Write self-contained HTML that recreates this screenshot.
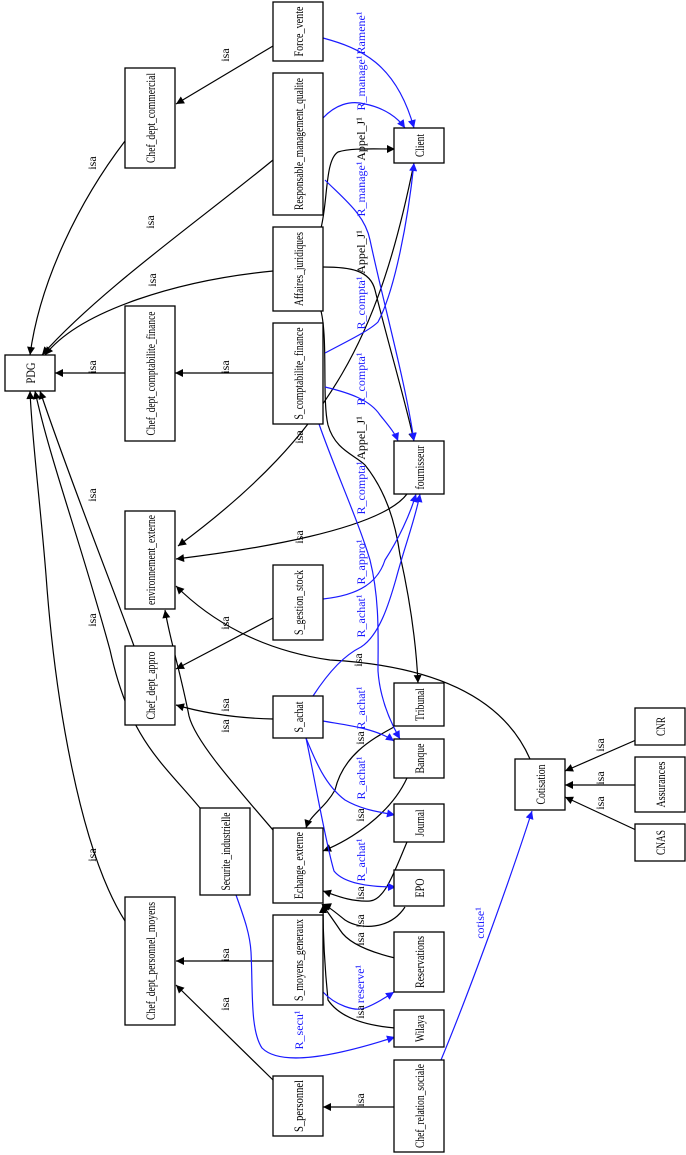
<!DOCTYPE html>
<html><head><meta charset="utf-8"><style>
html,body{margin:0;padding:0;background:#fff}
svg{display:block}
text{font-family:"Liberation Serif",serif;font-size:12px}
.n rect{fill:#fff;stroke:#000;stroke-width:1.3}
.n text{font-size:13px;text-anchor:middle}
.e{fill:none;stroke:#000;stroke-width:1.2}
.b{fill:none;stroke:#1a1aff;stroke-width:1.2}
.l{text-anchor:middle;fill:#000}
.lb{text-anchor:middle;fill:#1a1aff}
</style></head><body>
<svg width="686" height="1155" viewBox="0 0 686 1155" xmlns="http://www.w3.org/2000/svg">
<defs>
<marker id="ak" viewBox="0 0 10 10" refX="10" refY="5" markerWidth="10" markerHeight="8" orient="auto" markerUnits="userSpaceOnUse"><path d="M0,0L10,5L0,10z" fill="#000"/></marker>
<marker id="ab" viewBox="0 0 10 10" refX="10" refY="5" markerWidth="10" markerHeight="8" orient="auto" markerUnits="userSpaceOnUse"><path d="M0,0L10,5L0,10z" fill="#1a1aff"/></marker>
</defs>

<g class="e" marker-end="url(#ak)">
<path d="M273,46 L176,104"/>
<path d="M125,141 C80,200 40,280 30,355"/>
<path d="M273,160 C200,220 100,290 42,355"/>
<path d="M273,271 C180,280 80,310 45,355"/>
<path d="M125,373 L55,373"/>
<path d="M273,373 L175,373"/>
<path d="M407,494 C380,530 250,550 176,559"/>
<path d="M414,163 C380,330 335,430 178,546"/>
<path d="M530,759 C500,690 420,665 330,660 C260,650 210,620 176,586"/>
<path d="M273,618 L176,669"/>
<path d="M273,719 C230,718 200,712 176,705"/>
<path d="M134,646 C110,580 70,480 40,391"/>
<path d="M200,808 C160,760 130,740 110,650 C80,540 50,460 35,391"/>
<path d="M125,921 C80,850 55,700 46,575 C40,500 32,440 30,391"/>
<path d="M273,830 C230,780 195,740 189,716 C180,670 170,640 165,610"/>
<path d="M394,727 C370,740 343,756 335,790 C325,808 310,815 306,828"/>
<path d="M407,778 C390,815 350,840 323,851"/>
<path d="M407,842 C395,870 385,900 370,901 C350,902 335,895 323,891"/>
<path d="M405,907 C390,930 360,930 345,920 C335,912 328,906 323,904"/>
<path d="M395,958 C370,952 348,943 340,930 C332,918 326,910 322,904"/>
<path d="M395,1028 C360,1025 338,1015 328,1000 C324,960 323,930 323,905"/>
<path d="M273,961 L176,961"/>
<path d="M273,1080 L176,985"/>
<path d="M394,1107 L323,1107"/>
<path d="M636,740 L565,771"/>
<path d="M636,785 L565,785"/>
<path d="M636,830 L565,797"/>
<path d="M321,228 C328,200 325,160 338,152 C350,148 370,149 395,149"/>
<path d="M323,267 C350,267 370,270 375,290 C390,350 405,400 414,441"/>
<path d="M321,311 C328,340 322,400 328,425 C335,450 355,455 365,465 C385,490 395,520 400,555 C410,600 416,640 418,683"/>
</g>

<g class="b" marker-end="url(#ab)">
<path d="M323,38 C360,48 396,63 414,128"/>
<path d="M323,118 C335,105 350,100 365,104 C385,108 398,118 405,128"/>
<path d="M325,180 C345,200 365,215 370,240 C385,310 405,380 414,441"/>
<path d="M325,353 C350,340 370,330 378,322 C395,290 408,220 414,163"/>
<path d="M325,387 C350,393 370,400 380,415 C388,425 395,433 398,441"/>
<path d="M319,424 C335,470 358,520 370,560 C380,600 378,640 378,671 C380,700 392,725 400,739"/>
<path d="M323,599 C360,595 378,582 385,560 C398,540 410,515 416,494"/>
<path d="M313,696 C330,670 345,655 361,647 C380,635 390,600 396,579 C405,545 415,520 420,494"/>
<path d="M323,721 C345,725 375,728 394,741"/>
<path d="M306,738 C315,760 325,785 345,800 C362,810 380,812 395,815"/>
<path d="M306,738 C315,780 325,840 334,871 C345,885 375,887 396,887"/>
<path d="M323,992 C335,1005 355,1012 365,1008 C375,1004 385,998 394,992"/>
<path d="M236,895 C245,920 250,935 251,952 C253,990 250,1030 262,1048 C280,1066 330,1058 395,1037"/>
<path d="M441,1060 C470,990 510,880 532,811"/>
</g>

<g class="n">
<rect x="273" y="2" width="50" height="59"/><text transform="translate(303,31.5) rotate(-90)" textLength="50" lengthAdjust="spacingAndGlyphs">Force_vente</text>
<rect x="125" y="68" width="50" height="100"/><text transform="translate(155,118) rotate(-90)" textLength="90" lengthAdjust="spacingAndGlyphs">Chef_dept_commercial</text>
<rect x="273" y="73" width="50" height="142"/><text transform="translate(303,144) rotate(-90)" textLength="132" lengthAdjust="spacingAndGlyphs">Responsable_management_qualite</text>
<rect x="394" y="128" width="50" height="35"/><text transform="translate(424,145.5) rotate(-90)" textLength="23" lengthAdjust="spacingAndGlyphs">Client</text>
<rect x="273" y="227" width="50" height="84"/><text transform="translate(303,269) rotate(-90)" textLength="74" lengthAdjust="spacingAndGlyphs">Affaires_juridiques</text>
<rect x="5" y="355" width="50" height="36"/><text transform="translate(35,373) rotate(-90)" textLength="21" lengthAdjust="spacingAndGlyphs">PDG</text>
<rect x="125" y="306" width="50" height="135"/><text transform="translate(155,373.5) rotate(-90)" textLength="124" lengthAdjust="spacingAndGlyphs">Chef_dept_comptabilite_finance</text>
<rect x="273" y="323" width="50" height="101"/><text transform="translate(303,373.5) rotate(-90)" textLength="92" lengthAdjust="spacingAndGlyphs">S_comptabilite_finance</text>
<rect x="394" y="441" width="50" height="53"/><text transform="translate(424,467.5) rotate(-90)" textLength="44" lengthAdjust="spacingAndGlyphs">fournisseur</text>
<rect x="125" y="511" width="50" height="98"/><text transform="translate(155,560) rotate(-90)" textLength="90" lengthAdjust="spacingAndGlyphs">environnement_externe</text>
<rect x="273" y="565" width="50" height="75"/><text transform="translate(303,602.5) rotate(-90)" textLength="65" lengthAdjust="spacingAndGlyphs">S_gestion_stock</text>
<rect x="125" y="646" width="50" height="79"/><text transform="translate(155,685.5) rotate(-90)" textLength="68" lengthAdjust="spacingAndGlyphs">Chef_dept_appro</text>
<rect x="273" y="696" width="50" height="42"/><text transform="translate(303,717) rotate(-90)" textLength="31" lengthAdjust="spacingAndGlyphs">S_achat</text>
<rect x="394" y="683" width="50" height="43"/><text transform="translate(424,704.5) rotate(-90)" textLength="33" lengthAdjust="spacingAndGlyphs">Tribunal</text>
<rect x="394" y="739" width="50" height="39"/><text transform="translate(424,758.5) rotate(-90)" textLength="30" lengthAdjust="spacingAndGlyphs">Banque</text>
<rect x="515" y="759" width="50" height="51"/><text transform="translate(545,784.5) rotate(-90)" textLength="40" lengthAdjust="spacingAndGlyphs">Cotisation</text>
<rect x="635" y="708" width="50" height="37"/><text transform="translate(665,726.5) rotate(-90)" textLength="19" lengthAdjust="spacingAndGlyphs">CNR</text>
<rect x="635" y="757" width="50" height="55"/><text transform="translate(665,784.5) rotate(-90)" textLength="46" lengthAdjust="spacingAndGlyphs">Assurances</text>
<rect x="635" y="824" width="50" height="37"/><text transform="translate(665,842.5) rotate(-90)" textLength="25" lengthAdjust="spacingAndGlyphs">CNAS</text>
<rect x="200" y="808" width="50" height="87"/><text transform="translate(230,851.5) rotate(-90)" textLength="78" lengthAdjust="spacingAndGlyphs">Securite_industrielle</text>
<rect x="394" y="804" width="50" height="38"/><text transform="translate(424,823) rotate(-90)" textLength="27" lengthAdjust="spacingAndGlyphs">Journal</text>
<rect x="273" y="828" width="50" height="75"/><text transform="translate(303,865.5) rotate(-90)" textLength="67" lengthAdjust="spacingAndGlyphs">Echange_externe</text>
<rect x="394" y="870" width="50" height="36"/><text transform="translate(424,888) rotate(-90)" textLength="19" lengthAdjust="spacingAndGlyphs">EPO</text>
<rect x="125" y="897" width="50" height="128"/><text transform="translate(155,961) rotate(-90)" textLength="118" lengthAdjust="spacingAndGlyphs">Chef_dept_personnel_moyens</text>
<rect x="273" y="915" width="50" height="90"/><text transform="translate(303,960) rotate(-90)" textLength="82" lengthAdjust="spacingAndGlyphs">S_moyens_generaux</text>
<rect x="394" y="932" width="50" height="60"/><text transform="translate(424,962) rotate(-90)" textLength="52" lengthAdjust="spacingAndGlyphs">Reservations</text>
<rect x="394" y="1010" width="50" height="37"/><text transform="translate(424,1028.5) rotate(-90)" textLength="27" lengthAdjust="spacingAndGlyphs">Wilaya</text>
<rect x="273" y="1076" width="50" height="60"/><text transform="translate(303,1106) rotate(-90)" textLength="52" lengthAdjust="spacingAndGlyphs">S_personnel</text>
<rect x="394" y="1060" width="50" height="92"/><text transform="translate(424,1106) rotate(-90)" textLength="84" lengthAdjust="spacingAndGlyphs">Chef_relation_sociale</text>
</g>

<g class="l">
<text transform="translate(229,55) rotate(-90)">isa</text>
<text transform="translate(96,163) rotate(-90)">isa</text>
<text transform="translate(154,222) rotate(-90)">isa</text>
<text transform="translate(156,280) rotate(-90)">isa</text>
<text transform="translate(96,367) rotate(-90)">isa</text>
<text transform="translate(229,367) rotate(-90)">isa</text>
<text transform="translate(303,537) rotate(-90)">isa</text>
<text transform="translate(303,437) rotate(-90)">isa</text>
<text transform="translate(362,660) rotate(-90)">isa</text>
<text transform="translate(229,623) rotate(-90)">isa</text>
<text transform="translate(229,705) rotate(-90)">isa</text>
<text transform="translate(96,495) rotate(-90)">isa</text>
<text transform="translate(96,620) rotate(-90)">isa</text>
<text transform="translate(96,855) rotate(-90)">isa</text>
<text transform="translate(229,726) rotate(-90)">isa</text>
<text transform="translate(364,738) rotate(-90)">isa</text>
<text transform="translate(364,815) rotate(-90)">isa</text>
<text transform="translate(364,893) rotate(-90)">isa</text>
<text transform="translate(364,921) rotate(-90)">isa</text>
<text transform="translate(364,939) rotate(-90)">isa</text>
<text transform="translate(364,1012) rotate(-90)">isa</text>
<text transform="translate(229,955) rotate(-90)">isa</text>
<text transform="translate(229,1004) rotate(-90)">isa</text>
<text transform="translate(364,1100) rotate(-90)">isa</text>
<text transform="translate(604,745) rotate(-90)">isa</text>
<text transform="translate(604,778) rotate(-90)">isa</text>
<text transform="translate(604,803) rotate(-90)">isa</text>
<text transform="translate(365,139) rotate(-90)">Appel_J¹</text>
<text transform="translate(365,252) rotate(-90)">Appel_J¹</text>
<text transform="translate(365,438) rotate(-90)">Appel_J¹</text>
</g>

<g class="lb">
<text transform="translate(365,33) rotate(-90)">Ramene¹</text>
<text transform="translate(365,83) rotate(-90)">R_manage¹</text>
<text transform="translate(365,189) rotate(-90)">R_manage¹</text>
<text transform="translate(365,303) rotate(-90)">R_compta¹</text>
<text transform="translate(365,379) rotate(-90)">R_compta¹</text>
<text transform="translate(365,488) rotate(-90)">R_compta¹</text>
<text transform="translate(365,562) rotate(-90)">R_appro¹</text>
<text transform="translate(365,616) rotate(-90)">R_achat¹</text>
<text transform="translate(365,708) rotate(-90)">R_achat¹</text>
<text transform="translate(365,778) rotate(-90)">R_achat¹</text>
<text transform="translate(365,860) rotate(-90)">R_achat¹</text>
<text transform="translate(364,984) rotate(-90)">reserve¹</text>
<text transform="translate(303,1030) rotate(-90)">R_secu¹</text>
<text transform="translate(484,923) rotate(-90)">cotise¹</text>
</g>
</svg>
</body></html>
